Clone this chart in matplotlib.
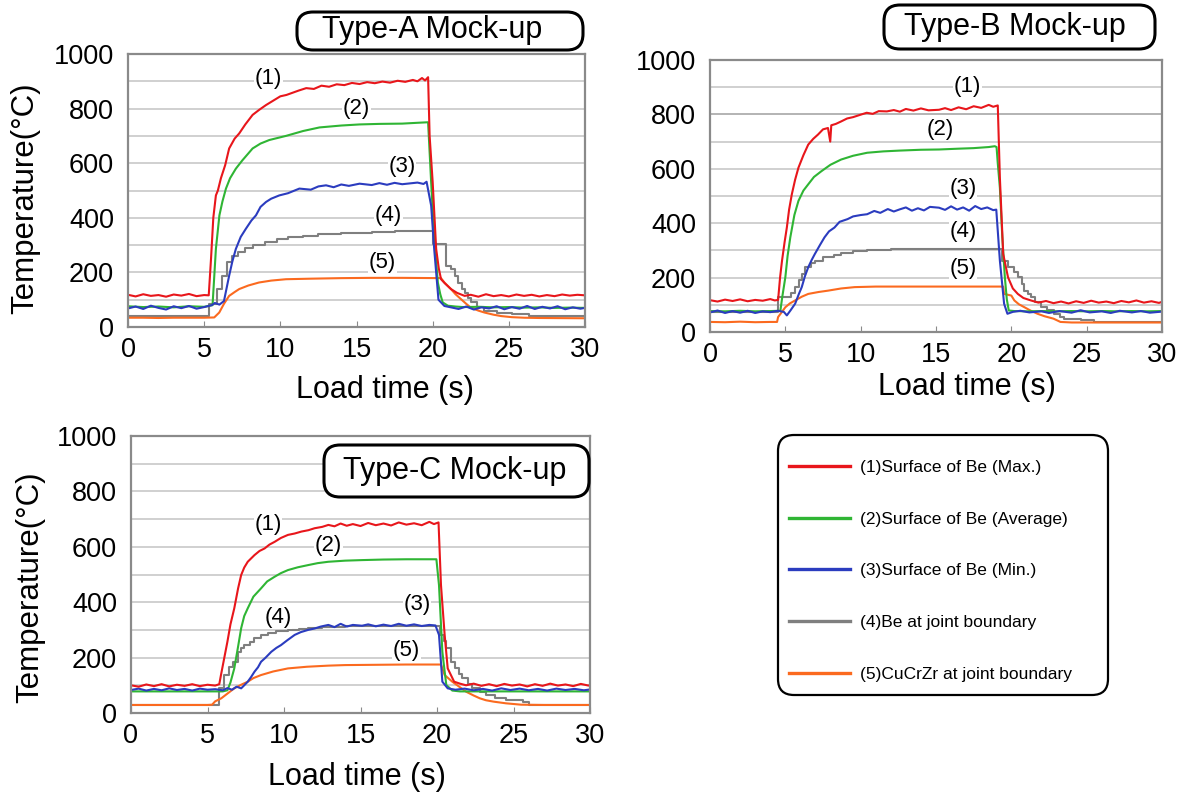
import matplotlib
matplotlib.use('Agg')
import matplotlib.pyplot as plt
from matplotlib.patches import FancyBboxPatch
from matplotlib.lines import Line2D
from matplotlib.ticker import MultipleLocator

plt.rcParams['font.family'] = ['Liberation Sans', 'DejaVu Sans']

# ---------------- data ----------------
x_ticks = [0, 5, 10, 15, 20, 25, 30]
y_ticks = [0, 200, 400, 600, 800, 1000]
panel_titles = ['Type-A Mock-up', 'Type-B Mock-up', 'Type-C Mock-up']
series_labels = ['(1)Surface of Be (Max.)', '(2)Surface of Be (Average)',
                 '(3)Surface of Be (Min.)', '(4)Be at joint boundary',
                 '(5)CuCrZr at joint boundary']
curve_tags = ['(1)', '(2)', '(3)', '(4)', '(5)']

# Type-A  (time s, temperature degC)
A_red = [(0,118),(0.5,112),(1,120),(1.5,114),(2,117),(2.5,111),(3,119),(3.5,115),(4,121),(4.5,113),(5,117),(5.3,116),
         (5.45,250),(5.6,400),(5.77,482),(5.9,500),(6.1,545),(6.38,593),(6.64,654),(7.0,690),(7.3,709),(7.7,742),
         (8.18,777),(8.6,795),(9.06,813),(9.5,828),(10.0,845),(10.4,850),(10.8,858),(11.2,866),(11.7,875),(12.2,872),
         (12.7,884),(13.2,880),(13.7,889),(14.2,886),(14.7,894),(15.2,890),(15.7,897),(16.2,893),(16.7,899),(17.2,895),
         (17.7,902),(18.2,898),(18.7,905),(19.0,900),(19.3,912),(19.5,903),(19.7,915),(19.8,700),(20.0,531),(20.23,286),
         (20.4,215),(20.55,175),(20.8,160),(21.2,139),(21.6,125),(22.1,114),(22.5,118),(23,111),(23.5,120),(24,113),
         (24.5,117),(25,112),(25.5,119),(26,114),(26.5,118),(27,112),(27.5,117),(28,113),(28.5,119),(29,115),(29.5,118),(30,116)]
A_green = [(0,76),(1,73),(2,75),(3,72),(4,76),(5,74),(5.55,80),(5.77,286),(6.0,409),(6.2,460),(6.43,507),(6.7,545),
           (7.08,580),(7.5,610),(8.18,654),(8.7,672),(9.28,685),(10.37,700),(11.5,718),(12.57,731),(14,738),(15.2,742),
           (16.5,744),(18,745),(19.0,748),(19.7,750),(19.9,531),(20.1,330),(20.34,163),(20.5,120),(20.66,90),(21.0,78),
           (21.5,75),(22,73),(23,74),(24,72),(25,73),(26,71),(27,72),(28,70),(29,71),(30,70)]
A_blue = [(0,68),(0.5,75),(1,66),(1.5,78),(2,70),(2.5,64),(3,76),(3.5,69),(4,77),(4.5,67),(5,73),(5.5,80),(5.7,88),
          (6.0,82),(6.3,95),(6.64,188),(6.85,240),(7.08,286),(7.4,330),(7.74,360),(8.1,390),(8.4,409),(8.7,440),(9.06,458),
          (9.4,470),(9.93,482),(10.5,490),(11.25,507),(12,503),(12.5,515),(13.0,519),(13.5,512),(14,522),(14.5,517),
          (15.2,525),(16,520),(16.5,527),(17,521),(17.5,528),(18,523),(18.5,526),(19,529),(19.4,524),(19.6,532),(19.9,445),
          (20.1,286),(20.38,100),(20.77,77),(21.2,72),(21.7,66),(22.2,75),(22.7,64),(23.2,72),(23.7,68),(24.2,76),(24.7,65),
          (25.2,73),(25.7,67),(26.2,77),(26.7,66),(27.2,74),(27.7,68),(28.2,76),(28.7,65),(29.2,72),(29.7,67),(30,70)]
A_gray = [(0,40),(5.3,86),(5.85,139),(6.2,188),(6.5,237),(6.85,261),(7.2,274),(7.7,290),(8.2,300),(9.0,313),(9.8,322),
          (10.5,329),(11.5,335),(12.5,341),(14,345),(16,347),(17.5,350),(20.0,304),(20.9,224),(21.2,212),(21.45,185),
          (21.64,163),(21.9,140),(22.1,126),(22.3,105),(22.5,90),(22.9,72),(23.4,59),(24.25,53),(25.2,48),(26.3,40),(30,40)]
A_orange = [(0,34),(1,34),(2,33),(3,34),(4,34),(5,34),(5.66,35),(5.99,53),(6.3,85),(6.64,114),(7.0,128),(7.3,139),
            (7.9,152),(8.6,163),(9.4,170),(10.37,175),(12,177),(14,179),(16,180),(18,180),(20.55,179),(20.77,163),
            (21.2,139),(21.5,120),(21.86,102),(22.2,85),(22.5,71),(23,60),(23.4,53),(24,45),(24.5,40),(25.2,36),
            (26,34),(27,33),(30,32)]

# Type-B
B_red = [(0,117),(0.5,112),(1,119),(1.5,114),(2,120),(2.5,113),(3,118),(3.5,115),(4,121),(4.3,116),(4.52,118),(4.65,200),
         (4.78,262),(4.95,330),(5.1,384),(5.25,450),(5.43,506),(5.65,560),(5.87,604),(6.2,650),(6.52,689),(6.85,710),
         (7.17,726),(7.5,745),(7.83,750),(7.98,700),(8.05,760),(8.35,765),(8.7,774),(9.1,785),(9.5,790),(10.0,799),
         (10.4,806),(10.8,802),(11.2,812),(11.74,811),(12.2,816),(12.6,810),(13,820),(13.5,814),(14,822),(14.5,815),
         (15.2,817),(15.6,823),(16,816),(16.5,826),(17,819),(17.5,830),(18,824),(18.5,835),(18.8,828),(19.1,833),
         (19.24,567),(19.46,287),(19.78,201),(20.1,160),(20.43,140),(20.8,125),(21.3,116),(21.8,108),(22.3,114),
         (22.8,106),(23.3,112),(23.8,105),(24.3,113),(24.8,107),(25.3,115),(25.8,108),(26.3,112),(26.8,106),(27.3,114),
         (27.8,109),(28.3,116),(28.8,108),(29.3,113),(29.8,107),(30,111)]
B_green = [(0,77),(1,76),(2,78),(3,76),(4,77),(4.67,78),(4.8,130),(5.0,201),(5.15,280),(5.33,348),(5.6,430),(5.87,482),
           (6.2,520),(6.52,543),(6.9,570),(7.39,591),(8,615),(8.7,634),(9.5,648),(10.43,659),(11.5,664),(12.6,667),
           (14,670),(15.2,671),(16.5,674),(17.5,676),(18.5,680),(18.9,683),(19.02,680),(19.1,620),(19.24,530),(19.4,350),
           (19.57,201),(19.7,120),(19.83,79),(20.2,77),(21,76),(22,77),(23,76),(24,77),(25,76),(26,77),(27,76),(28,77),
           (29,76),(30,77)]
B_blue = [(0,72),(0.5,79),(1,70),(1.5,77),(2,71),(2.5,78),(3,70),(3.5,76),(4,73),(4.5,78),(4.9,74),(5.1,61),(5.35,80),
          (5.65,104),(5.9,140),(6.09,165),(6.3,205),(6.52,238),(6.75,265),(6.96,287),(7.3,320),(7.6,348),(7.9,370),
          (8.26,384),(8.6,405),(9.13,415),(9.5,425),(10.0,430),(10.43,433),(10.9,445),(11.3,438),(11.8,452),(12.2,443),
          (12.6,451),(13,458),(13.4,446),(13.8,455),(14.2,447),(14.6,460),(15.2,457),(15.6,449),(16,462),(16.4,450),
          (16.8,458),(17.2,446),(17.6,463),(18,452),(18.4,458),(18.8,448),(19.0,450),(19.24,262),(19.52,104),(19.74,67),
          (20.1,74),(20.6,78),(21.2,72),(22,76),(22.5,70),(23.2,77),(24,71),(24.6,80),(25.2,72),(26,76),(26.6,70),
          (27.2,78),(28,72),(28.6,77),(29.2,71),(30,75)]
B_gray = [(0,75),(4.5,128),(5.4,145),(5.65,165),(5.9,190),(6.09,213),(6.3,238),(6.7,255),(6.96,262),(7.5,274),(8.2,282),
          (8.7,289),(9.5,296),(10.43,301),(12,305),(19.4,262),(19.8,238),(20.2,220),(20.43,201),(20.7,175),(20.87,152),
          (21.1,140),(21.3,128),(21.6,110),(21.96,91),(22.4,80),(22.8,67),(23.2,55),(23.5,49),(24.6,45),(25.5,38),(30,36)]
B_orange = [(0,37),(1,36),(2,38),(3,36),(4,37),(4.45,37),(4.52,55),(4.75,72),(5.0,91),(5.3,105),(5.65,116),(6.1,130),
            (6.52,140),(7.2,147),(7.83,152),(8.7,160),(9.6,165),(11,167),(12.6,167),(15,167),(17,167),(19.46,167),
            (19.52,140),(20.0,134),(20.2,116),(20.5,102),(20.87,91),(21.3,78),(21.74,67),(22.2,58),(22.8,49),(23.26,37),
            (24,35),(26,35),(28,35),(30,35)]

# Type-C
C_red = [(0,100),(0.5,95),(1,103),(1.5,97),(2,104),(2.5,96),(3,102),(3.5,98),(4,104),(4.5,97),(5,102),(5.5,99),(5.77,104),
         (5.88,137),(6.1,200),(6.3,257),(6.5,320),(6.75,378),(7.0,450),(7.2,498),(7.4,525),(7.63,546),(8.07,570),(8.4,585),
         (8.73,594),(9.05,608),(9.39,618),(9.8,632),(10.26,643),(10.7,648),(11.14,655),(11.6,660),(12.0,667),(12.5,672),
         (12.9,679),(13.3,674),(13.7,684),(14.1,676),(14.5,682),(15,675),(15.5,686),(16,678),(16.5,684),(17,677),
         (17.5,688),(18,680),(18.5,685),(19,678),(19.5,690),(19.8,682),(20.1,688),(20.26,462),(20.5,282),(20.7,161),
         (21.12,113),(21.5,106),(21.9,100),(22.4,106),(22.9,98),(23.4,104),(23.9,97),(24.4,105),(24.9,99),(25.4,103),
         (25.9,96),(26.4,104),(26.9,98),(27.4,106),(27.9,99),(28.4,103),(28.9,97),(29.4,105),(29.9,99),(30,101)]
C_green = [(0,78),(1,78),(2,78),(3,78),(4,78),(5,78),(6,78),(6.3,82),(6.5,110),(6.75,161),(7.0,240),(7.2,306),(7.4,350),
           (7.63,378),(8.0,420),(8.5,450),(8.9,475),(9.39,492),(9.8,505),(10.26,516),(10.9,526),(11.58,534),(12.2,541),
           (12.9,546),(14,550),(15.1,552),(16.5,554),(18,555),(19.96,555),(20.13,462),(20.35,221),(20.5,150),(20.61,101),
           (21.0,81),(21.5,78),(23,78),(25,78),(27,78),(30,78)]
C_blue = [(0,83),(0.5,88),(1,81),(1.5,87),(2,82),(2.5,89),(3,83),(3.5,87),(4,81),(4.5,88),(5,84),(5.5,86),(6,82),(6.3,90),
          (6.6,84),(6.9,95),(7.2,89),(7.4,100),(7.63,113),(7.85,130),(8.07,149),(8.3,165),(8.5,185),(8.8,200),(9.17,221),
          (9.5,235),(9.8,245),(10.2,262),(10.7,282),(11.1,292),(11.58,300),(12,305),(12.4,312),(12.9,318),(13.3,310),
          (13.7,322),(14.1,312),(14.5,318),(15.1,315),(15.5,320),(16,313),(16.5,319),(17,314),(17.5,322),(18,315),
          (18.5,320),(19,314),(19.5,318),(19.9,316),(20.13,282),(20.35,113),(20.7,89),(21.2,84),(21.8,88),(22.4,82),
          (23,87),(23.6,81),(24.2,89),(24.8,83),(25.4,88),(26,82),(26.6,87),(27.2,81),(27.8,88),(28.4,83),(29,87),
          (29.6,82),(30,85)]
C_gray = [(0,29),(5.75,90),(6.1,137),(6.4,165),(6.65,185),(6.97,221),(7.2,235),(7.41,245),(7.8,258),(8.07,270),(8.5,280),
          (8.95,288),(9.5,295),(10.26,300),(11,305),(11.58,308),(12.5,312),(14,315),(20.2,282),(20.45,260),(20.6,233),
          (20.9,185),(21.2,161),(21.45,140),(21.66,125),(22.0,105),(22.3,89),(22.8,75),(23.2,65),(23.8,55),(24.5,47),
          (25.6,41),(26,29),(30,29)]
C_orange = [(0,29),(1,29),(2,29),(3,29),(4,29),(5,29),(5.3,30),(5.5,42),(5.9,53),(6.3,70),(6.75,89),(7.2,102),(7.63,113),
            (8.0,126),(8.5,137),(9.3,150),(10.26,161),(11.5,167),(12.9,171),(14,173),(16,174),(18,175),(20.26,175),
            (20.5,137),(21.0,113),(21.45,95),(21.9,77),(22.4,63),(22.8,53),(23.2,46),(23.7,41),(24.5,35),(25.5,30),
            (27,29),(30,29)]

# ---------------- layout / style ----------------
W, H = 1193, 797
colors = ['#e8161b', '#2fb534', '#2b3cbf', '#7f7f7f', '#fb6a1f']

def frac_rect(l, t, r, b):
    return [l / W, 1 - b / H, (r - l) / W, (b - t) / H]

panels = [
    dict(rect=frac_rect(128, 54, 585, 327), data=[A_red, A_green, A_blue, A_gray, A_orange],
         tags=[(9.2, 912), (15.0, 802), (18.0, 588), (17.1, 410), (16.7, 236)],
         title_box=(297, 12, 583, 50), title_c=(432, 30),
         xlab=(0.562, -0.231), ylab=(-0.225, 0.473), dark=None),
    dict(rect=frac_rect(710, 60, 1162, 332), data=[B_red, B_green, B_blue, B_gray, B_orange],
         tags=[(17.1, 904), (15.3, 743), (16.8, 529), (16.8, 368), (16.8, 235)],
         title_box=(884, 5, 1155, 49), title_c=(1015, 27),
         xlab=(0.569, -0.202), ylab=None, dark=800),
    dict(rect=frac_rect(131, 436, 590, 713), data=[C_red, C_green, C_blue, C_gray, C_orange],
         tags=[(8.95, 679), (12.9, 606), (18.7, 390), (9.6, 343), (18.0, 227)],
         title_box=(324, 445, 589, 497), title_c=(455, 471),
         xlab=(0.492, -0.231), ylab=(-0.22, 0.455), dark=None),
]

fig = plt.figure(figsize=(W / 100, H / 100), dpi=100)

draw_order = [3, 4, 1, 2, 0]
for p, title in zip(panels, panel_titles):
    ax = fig.add_axes(p['rect'])
    ax.set_xlim(0, 30)
    ax.set_ylim(0, 1000)
    ax.set_xticks(x_ticks)
    ax.set_yticks(y_ticks)
    ax.yaxis.set_minor_locator(MultipleLocator(100))
    ax.grid(True, axis='y', which='both', color='#c4c4c4', lw=1.1)
    ax.set_axisbelow(True)
    if p['dark'] is not None:
        ax.axhline(p['dark'], color='#7a7a7a', lw=1.3, zorder=0.5)
    for s in ax.spines.values():
        s.set_color('#8a8a8a')
        s.set_linewidth(1.6)
    ax.tick_params(axis='x', direction='in', length=4, color='#8a8a8a', labelsize=19.5, pad=7)
    ax.tick_params(axis='y', which='both', length=0, labelsize=19.5, pad=10)
    for k, i in enumerate(draw_order):
        pts = p['data'][i]
        ts = [q[0] for q in pts]
        vs = [q[1] for q in pts]
        ax.plot(ts, vs, color=colors[i], lw=1.5,
                drawstyle='steps-post' if i == 3 else 'default', zorder=2 + 0.1 * k)
    for tag, (tx, ty) in zip(curve_tags, p['tags']):
        ax.text(tx, ty, tag, fontsize=16, ha='center', va='center', zorder=6,
                bbox=dict(fc='white', ec='none', pad=0.5))
    ax.set_xlabel('Load time (s)', fontsize=22, va='center')
    ax.xaxis.set_label_coords(*p['xlab'])
    if p['ylab'] is not None:
        ax.set_ylabel('Temperature(°C)', fontsize=22.5, va='center')
        ax.yaxis.set_label_coords(*p['ylab'])
    l, t, r, b = p['title_box']
    box = FancyBboxPatch((l / 100, (H - b) / 100), (r - l) / 100, (b - t) / 100,
                         boxstyle='round,pad=0,rounding_size=0.16', transform=fig.dpi_scale_trans,
                         fc='white', ec='black', lw=2.2, zorder=5)
    fig.add_artist(box)
    fig.text(p['title_c'][0] / W, 1 - p['title_c'][1] / H, title, fontsize=22,
             ha='center', va='center', zorder=6)

# legend panel
lbox = FancyBboxPatch((778 / 100, (H - 695) / 100), (1108 - 778) / 100, (695 - 435) / 100,
                      boxstyle='round,pad=0,rounding_size=0.16', transform=fig.dpi_scale_trans,
                      fc='white', ec='black', lw=1.6, zorder=1)
fig.add_artist(lbox)
handles = [Line2D([], [], color=c, lw=2.4) for c in colors]
fig.legend(handles, series_labels, loc='upper left', bbox_to_anchor=(789 / W, 1 - 460 / H),
           frameon=False, fontsize=12.5, borderpad=0, labelspacing=2.1, handlelength=3.5,
           handletextpad=0.6, borderaxespad=0)

fig.savefig('out.png', dpi=100)
